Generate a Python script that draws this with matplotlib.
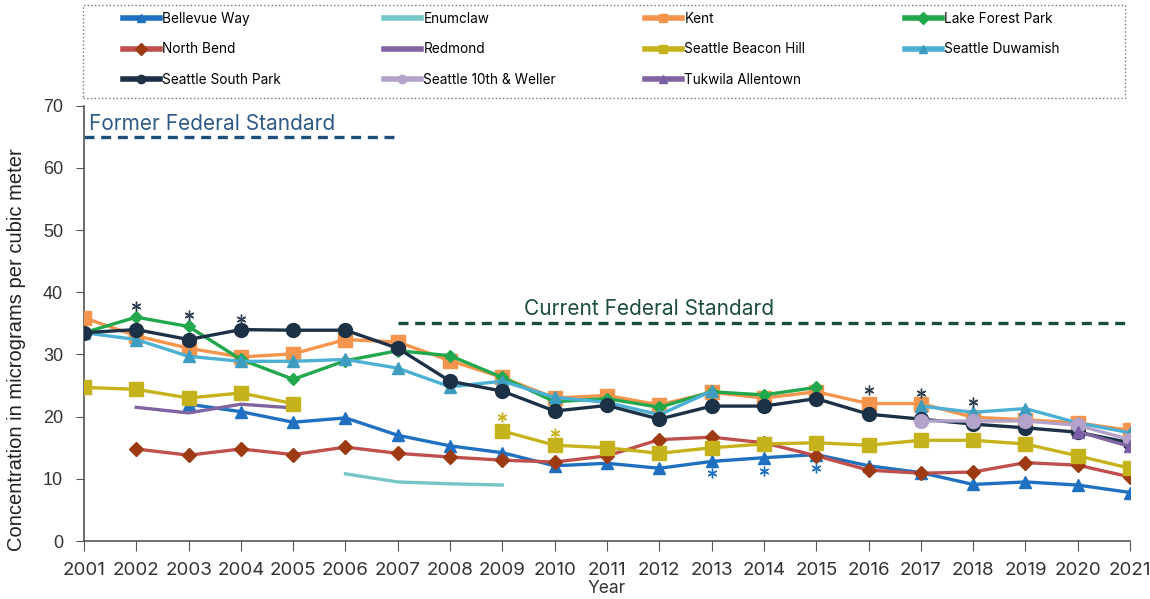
import numpy as np
import matplotlib
matplotlib.use("Agg")
import matplotlib.pyplot as plt
from matplotlib.lines import Line2D
from matplotlib.patches import Rectangle

nan = np.nan
years = list(range(2001, 2022))

bellevue = [nan, nan, 22.0, 20.8, 19.1, 19.8, 17.0, 15.3, 14.2, 12.1, 12.5, 11.7, 12.8, 13.4, 13.9, 12.1, 11.0, 9.1, 9.5, 9.0, 7.8]
enumclaw = [nan, nan, nan, nan, nan, 10.8, 9.5, 9.2, 9.0, nan, nan, nan, nan, nan, nan, nan, nan, nan, nan, nan, nan]
kent = [35.9, 33.0, 31.0, 29.6, 30.1, 32.4, 32.0, 29.0, 26.3, 23.0, 23.4, 21.9, 23.9, 23.0, 24.0, 22.1, 22.1, 19.9, 19.5, 19.0, 17.8]
lake_forest = [33.5, 36.0, 34.5, 29.2, 26.0, 29.0, 30.6, 29.8, 26.3, 22.4, 22.9, 21.5, 24.0, 23.5, 24.7, nan, nan, nan, nan, nan, nan]
north_bend = [nan, 14.8, 13.8, 14.8, 13.9, 15.1, 14.1, 13.5, 13.0, 12.7, 13.7, 16.3, 16.7, 15.8, 13.7, 11.4, 10.9, 11.1, 12.6, 12.2, 10.3]
redmond = [nan, 21.5, 20.6, 22.0, 21.4, nan, nan, nan, nan, nan, nan, nan, nan, nan, nan, nan, nan, nan, nan, nan, nan]
beacon_hill = [24.7, 24.4, 23.0, 23.8, 22.1, nan, nan, nan, 17.7, 15.4, 15.0, 14.1, 15.0, 15.6, 15.8, 15.4, 16.2, 16.2, 15.6, 13.7, 11.7]
duwamish = [33.5, 32.4, 29.7, 28.9, 28.9, 29.2, 27.8, 24.8, 25.7, 23.1, 22.3, 20.3, 24.1, nan, nan, nan, 21.7, 20.7, 21.3, 19.0, 17.4]
south_park = [33.5, 34.0, 32.4, 34.0, 33.9, 33.9, 31.0, 25.7, 24.1, 20.9, 21.8, 19.6, 21.7, 21.7, 22.9, 20.4, 19.6, 18.8, 18.2, 17.5, 15.8]
weller = [nan, nan, nan, nan, nan, nan, nan, nan, nan, nan, nan, nan, nan, nan, nan, nan, 19.3, 19.3, 19.3, 18.6, 16.3]
tukwila = [nan, nan, nan, nan, nan, nan, nan, nan, nan, nan, nan, nan, nan, nan, nan, nan, nan, nan, nan, 17.6, 15.2]

# asterisk notes
star_navy_years = [2002, 2003, 2004, 2016, 2017, 2018]
star_navy_vals = [37.8, 36.3, 35.7, 24.3, 23.8, 22.3]
star_olive_years = [2009, 2010]
star_olive_vals = [19.9, 17.4]
star_blue_years = [2013, 2014, 2015]
star_blue_vals = [10.9, 11.2, 11.7]

former_std = 65
current_std = 35

series = [
    # name, data, line colour, marker, marker colour, marker size
    ("Bellevue Way", bellevue, "#1f70c1", "^", "#1f70c1", 9),
    ("Enumclaw", enumclaw, "#76c6c8", None, "#76c6c8", 0),
    ("Kent", kent, "#f5944c", "s", "#f5944c", 10),
    ("Lake Forest Park", lake_forest, "#21a84c", "D", "#21a84c", 6),
    ("North Bend", north_bend, "#c0504d", "D", "#9e3a12", 7),
    ("Redmond", redmond, "#8064a2", None, "#8064a2", 0),
    ("Seattle Beacon Hill", beacon_hill, "#c6b31b", "s", "#c6b31b", 10),
    ("Seattle Duwamish", duwamish, "#4bb0d4", "^", "#3e9cbf", 9),
    ("Seattle South Park", south_park, "#1c3046", "o", "#1c3046", 10),
    ("Seattle 10th & Weller", weller, "#b3a3cb", "o", "#b3a3cb", 10),
    ("Tukwila Allentown", tukwila, "#8064a2", "^", "#7b5ea7", 9),
]

plt.rcParams['font.family'] = ['Inter', 'DejaVu Sans']

fig = plt.figure(figsize=(11.5, 5.99), dpi=100)
ax = fig.add_axes([0.073, 0.0968, 0.9097, 0.7267])

handles = {}
for name, vals, c, m, mc, ms in series:
    ln, = ax.plot(years, vals, color=c, lw=2.4, marker=m, markersize=ms,
                  markerfacecolor=mc, markeredgecolor=mc, label=name, zorder=3)
    handles[name] = ln

# standards
ax.plot([2001, 2007], [former_std, former_std], color="#1f4e79", lw=2.4,
        linestyle=(0, (3, 2)))
ax.text(2001.1, 67.0, "Former Federal Standard", color="#2e5a87",
        fontsize=15, va="center", ha="left")
ax.plot([2007, 2021], [current_std, current_std], color="#1b4d3e", lw=2.4,
        linestyle=(0, (3, 2)))
ax.text(2011.8, 37.3, "Current Federal Standard", color="#1e4d40",
        fontsize=15, va="center", ha="center")

for xs, ys, c in [(star_navy_years, star_navy_vals, "#2c3e50"),
                  (star_olive_years, star_olive_vals, "#c6b31b"),
                  (star_blue_years, star_blue_vals, "#1f70c1")]:
    ax.plot(xs, ys, linestyle="none", marker=(6, 2, 0), markersize=7,
            markeredgewidth=1.0, color=c, zorder=4)

ax.set_xlim(2001, 2021)
ax.set_ylim(0, 70)
ax.set_xticks(years)
ax.set_yticks(range(0, 71, 10))
for s in ["top", "right"]:
    ax.spines[s].set_visible(False)
for s in ["left", "bottom"]:
    ax.spines[s].set_color("#555555")
    ax.spines[s].set_linewidth(1.2)
ax.tick_params(axis="x", labelsize=13.5, colors="#555555", labelcolor="#333333", length=7, pad=8)
ax.tick_params(axis="y", labelsize=13, colors="#555555", labelcolor="#333333", length=6, pad=9)
for lab in ax.get_yticklabels():
    lab.set_fontfamily("Liberation Sans")
ax.set_xlabel("Year", fontsize=12.5, color="#333333", labelpad=1)
ax.set_ylabel("Concentration in micrograms per cubic meter", fontsize=14.5,
              color="#222222", family="Liberation Sans")
ax.yaxis.set_label_coords(-0.055, 0.44)

# legend: dotted box with four columns laid out row by row
fig.patches.append(Rectangle((83 / 1150, 1 - 98 / 599), (1125 - 83) / 1150, 93 / 599,
                             transform=fig.transFigure, fill=False,
                             edgecolor="#777777", linestyle=":", linewidth=1.0))
columns = [["Bellevue Way", "North Bend", "Seattle South Park"],
           ["Enumclaw", "Redmond", "Seattle 10th & Weller"],
           ["Kent", "Seattle Beacon Hill", "Tukwila Allentown"],
           ["Lake Forest Park", "Seattle Duwamish"]]
col_x = [123, 384, 645, 905]
for x0, names in zip(col_x, columns):
    hs = []
    for name in names:
        ln = handles[name]
        hs.append(Line2D([], [], color=ln.get_color(), lw=4,
                         marker=ln.get_marker(), markersize=6,
                         markerfacecolor=ln.get_markerfacecolor(),
                         markeredgecolor=ln.get_markeredgecolor()))
    lg = fig.legend(hs, names, loc="upper left",
                    bbox_to_anchor=(x0 / 1150, 1 - 12 / 599), frameon=False,
                    fontsize=9.8, handlelength=2.7, handletextpad=0.2,
                    borderpad=0, borderaxespad=0, labelspacing=1.2)

fig.savefig("out.png", dpi=100)
